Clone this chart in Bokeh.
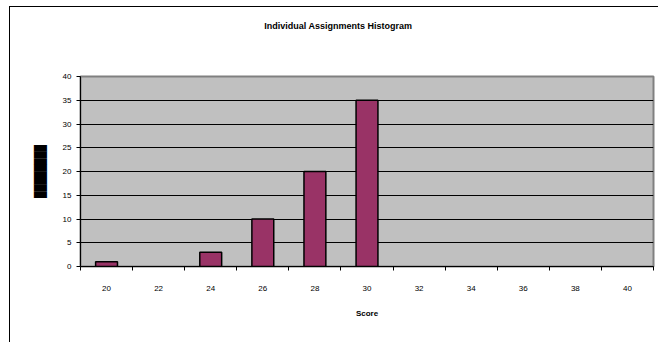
from bokeh.plotting import figure
from bokeh.models import (ColumnDataSource, FixedTicker, Range1d, LinearAxis,
                          CDSView, BooleanFilter)
from bokeh.embed import file_html
from bokeh.resources import INLINE

# ---- data ----
scores = [20, 22, 24, 26, 28, 30, 32, 34, 36, 38, 40]
counts = [1, 0, 3, 10, 20, 35, 0, 0, 0, 0, 0]
y_ticks = [0, 5, 10, 15, 20, 25, 30, 35, 40]
title_text = "Individual Assignments Histogram"
x_title = "Score"
y_title = "\u2588" * 8          # the original shows the y title as a solid black bar

FONT = "Liberation Sans"
OX, OY = 10, 7                   # offset of the chart area inside its border
W, H = 659 - OX, 343 - OY
FL, FR, FT, FB = 70, 6, 69, 77   # frame margins inside the figure

src = ColumnDataSource(dict(score=scores, count=counts))

p = figure(width=W, height=H, output_backend="svg", toolbar_location=None,
           x_range=Range1d(19, 41), y_range=Range1d(0, 40),
           min_border_left=FL, min_border_right=FR, min_border_top=FT,
           min_border_bottom=FB)
p.styles = {"margin-left": "9px", "margin-top": "6px",
            "border-left": "1px solid black", "border-top": "1px solid black"}
p.background_fill_color = "#C0C0C0"
p.border_fill_color = "white"
p.outline_line_color = "#808080"
p.outline_line_width = 2

view = CDSView(filter=BooleanFilter([c > 0 for c in counts]))
p.vbar(x="score", top="count", width=0.84, bottom=0, source=src, view=view,
       fill_color="#993366", line_color="black", line_width=1.5)

# grid
p.xgrid.visible = False
p.ygrid.ticker = FixedTicker(ticks=y_ticks)
p.ygrid.grid_line_color = "black"
p.ygrid.grid_line_width = 1

# y axis
p.yaxis.ticker = FixedTicker(ticks=y_ticks)
p.yaxis.axis_line_color = "black"
p.yaxis.major_tick_out = 4
p.yaxis.major_tick_in = 0
p.yaxis.minor_tick_line_color = None
p.yaxis.major_label_standoff = 5
p.yaxis.major_label_text_font = FONT
p.yaxis.major_label_text_font_size = "8px"
p.yaxis.major_label_text_color = "black"
p.yaxis.axis_label = y_title
p.yaxis.axis_label_text_font = "DejaVu Sans Mono"
p.yaxis.axis_label_text_font_size = "11px"
p.yaxis.axis_label_text_color = "black"
p.yaxis.axis_label_standoff = 13

# x axis: labels at bar centres, tick marks between categories
p.xaxis.ticker = FixedTicker(ticks=scores,
                             minor_ticks=[s - 1 for s in scores] + [scores[-1] + 1])
p.xaxis.axis_line_color = "black"
p.xaxis.major_tick_line_color = None
p.xaxis.major_tick_out = 0
p.xaxis.major_tick_in = 0
p.xaxis.minor_tick_out = 4
p.xaxis.minor_tick_in = 0
p.xaxis.minor_tick_line_color = "black"
p.xaxis.major_label_standoff = 15
p.xaxis.major_label_text_font = FONT
p.xaxis.major_label_text_font_size = "8px"
p.xaxis.major_label_text_color = "black"
p.xaxis.axis_label = x_title
p.xaxis.axis_label_text_font = FONT
p.xaxis.axis_label_text_font_size = "8px"
p.xaxis.axis_label_text_font_style = "bold"
p.xaxis.axis_label_text_color = "black"
p.xaxis.axis_label_standoff = 15

# chart title, drawn as the label of a bare axis above the plot area;
# trailing no-break spaces shift it left of the frame centre as in the original
title_axis = LinearAxis(ticker=FixedTicker(ticks=[]),
                        axis_label=title_text + "\u00a0" * 23,
                        axis_line_color=None, major_tick_line_color=None,
                        minor_tick_line_color=None, major_tick_out=0,
                        major_tick_in=0, minor_tick_out=0, minor_tick_in=0,
                        major_label_standoff=0, axis_label_standoff=46,
                        axis_label_text_font=FONT,
                        axis_label_text_font_size="9px",
                        axis_label_text_font_style="bold",
                        axis_label_text_color="black")
p.add_layout(title_axis, "above")

open("out.html", "w").write(file_html(p, INLINE))
